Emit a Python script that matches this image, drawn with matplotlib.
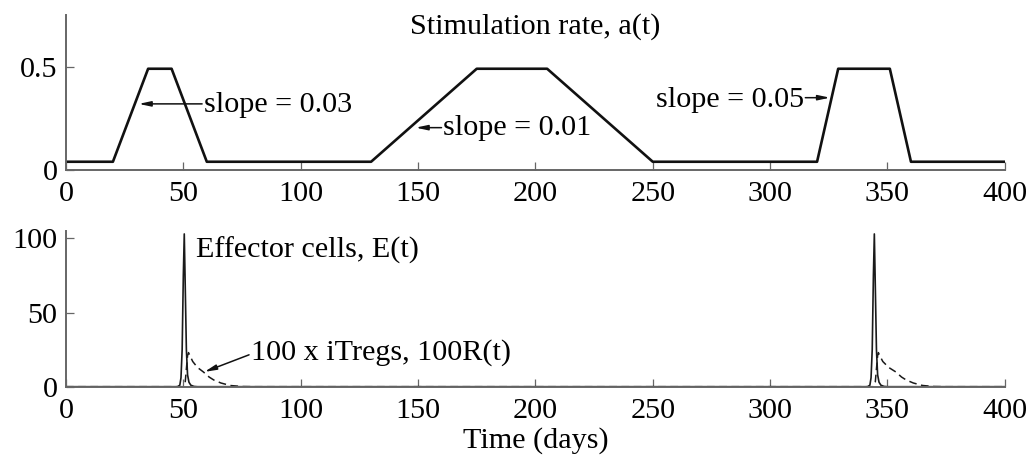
import matplotlib.pyplot as plt

plt.rcParams['font.family'] = ['Liberation Serif', 'DejaVu Serif']

# stimulation rate a(t), corner points of the trapezoids
a_t = [0, 20, 35, 45, 60, 130, 175, 205, 250, 320, 329, 351, 360, 400]
a_v = [0.04, 0.04, 0.49, 0.49, 0.04, 0.04, 0.49, 0.49, 0.04, 0.04, 0.49, 0.49, 0.04, 0.04]

# effector cells E(t)
E_t = [0, 47.5, 48.5, 49.0, 49.5, 50.0, 50.4, 50.9, 51.3, 51.8, 52.4, 53.2, 54.5, 56.0,
       341.5, 342.5, 343.0, 343.5, 344.0, 344.4, 344.9, 345.3, 345.8, 346.4, 347.2, 348.5, 350.0, 400]
E_v = [0, 0, 1, 6, 25, 75, 103, 60, 25, 8, 3, 1, 0.2, 0,
       0, 1, 6, 25, 75, 103, 60, 25, 8, 3, 1, 0.2, 0, 0]

# 100 x iTregs, 100R(t)
R_t = [0, 50.0, 50.8, 51.3, 51.8, 52.2, 52.8, 54.0, 56.0, 58.5, 61.0, 63.0, 66.0, 70.0, 75.0, 80.0,
       344.0, 344.8, 345.3, 345.8, 346.1, 346.7, 348.0, 350.5, 353.5, 356.0, 358.0, 361.0, 365.0, 370.0, 375.0, 400]
R_v = [0, 0, 3, 12, 21, 23, 21, 17, 13, 10, 6.5, 4.5, 2.5, 0.8, 0.1, 0,
       0, 3, 12, 21, 23, 21, 17, 13, 10, 6.5, 4.5, 2.5, 0.8, 0.1, 0, 0]

x_ticks = [0, 50, 100, 150, 200, 250, 300, 350, 400]

fig = plt.figure(figsize=(10.34, 4.62), dpi=100)
ax1 = fig.add_axes([0.0638, 0.632, 0.908, 0.3355])
ax2 = fig.add_axes([0.0638, 0.163, 0.908, 0.337])

fs = 21.7
axcol = '#666666'
for ax in (ax1, ax2):
    ax.spines['top'].set_visible(False)
    ax.spines['right'].set_visible(False)
    for s in ('left', 'bottom'):
        ax.spines[s].set_color(axcol)
        ax.spines[s].set_linewidth(1.4)
    ax.tick_params(direction='in', length=6, width=0.9, color=axcol,
                   labelsize=fs, pad=6)
    ax.tick_params(axis='x', pad=8)
    ax.set_xlim(0, 400)
    ax.set_xticks(x_ticks)

# top: stimulation rate
ax1.plot(a_t, a_v, color='#111111', lw=1.9)
ax1.set_ylim(0, 0.75)
ax1.set_yticks([0, 0.5])
ax1.set_yticklabels(['0', '0.5'])
ax1.text(200, 0.66, 'Stimulation rate, a(t)', ha='center', va='baseline', fontsize=fs)

arrow = dict(arrowstyle='-|>,head_length=0.7,head_width=0.15', color='#111111', lw=1.1,
             shrinkA=0, shrinkB=0)
ax1.annotate('', xy=(31, 0.32), xytext=(58, 0.32), arrowprops=arrow)
ax1.text(59, 0.28, 'slope = 0.03', ha='left', va='baseline', fontsize=fs)
ax1.annotate('', xy=(149, 0.205), xytext=(160, 0.205), arrowprops=arrow)
ax1.text(160.5, 0.168, 'slope = 0.01', ha='left', va='baseline', fontsize=fs)
ax1.annotate('', xy=(325.5, 0.35), xytext=(315, 0.35), arrowprops=arrow)
ax1.text(314.5, 0.304, 'slope = 0.05', ha='right', va='baseline', fontsize=fs)

# bottom: effector cells and iTregs
ax2.plot(E_t, E_v, color='#1a1a1a', lw=1.2)
ax2.plot(R_t, R_v, color='#1a1a1a', lw=1.1, ls=(0, (5, 3)))
ax2.set_ylim(0, 105)
ax2.set_yticks([0, 50, 100])
ax2.set_xlabel('Time (days)', fontsize=fs, labelpad=2)
ax2.text(55.4, 87.2, 'Effector cells, E(t)', ha='left', va='baseline', fontsize=fs)
ax2.annotate('', xy=(59, 10), xytext=(78, 21.5), arrowprops=arrow)
ax2.text(79, 18, '100 x iTregs, 100R(t)', ha='left', va='baseline', fontsize=fs)

fig.savefig('out.png', dpi=100)
